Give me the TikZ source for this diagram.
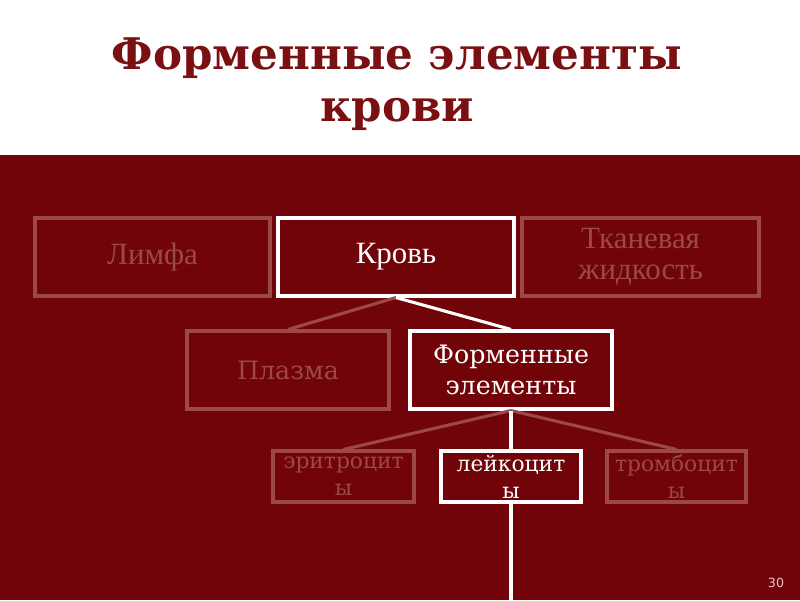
\documentclass[tikz,border=0pt]{standalone}
\usepackage{fontspec}
\setmainfont{DejaVu Serif}
\newfontfamily\timesfont{Liberation Serif}
\newfontfamily\sansfont{DejaVu Sans}
\usetikzlibrary{positioning}

\definecolor{bloodred}{RGB}{112,4,8}
\definecolor{titlered}{RGB}{122,16,18}
\definecolor{faded}{RGB}{156,72,74}
\definecolor{pagepink}{RGB}{235,195,195}

\tikzset{
  box/.style={draw, line width=2.2pt, align=center, inner sep=0pt},
  activebox/.style={box, draw=white, text=white},
  fadedbox/.style={box, draw=faded, text=faded},
  link/.style={line width=2.2pt, draw=white},
  fadedlink/.style={line width=2.2pt, draw=faded},
  bigtext/.style={font=\timesfont\fontsize{22}{22}\selectfont},
  midtext/.style={font=\fontsize{18}{21.5}\selectfont},
  smalltext/.style={font=\fontsize{15.5}{19}\selectfont}
}

\begin{document}
\begin{tikzpicture}[x=0.025cm, y=-0.025cm]
  \useasboundingbox (0,0) rectangle (800,600);
  % Background
  \fill[white] (0,0) rectangle (800,155);
  \fill[bloodred] (0,155) rectangle (800,600);

  % Title
  \node[text=titlered, align=center, font=\bfseries\fontsize{31}{37}\selectfont]
    (title) at (397,84) {Форменные элементы\\крови};

  % Top row
  \node[fadedbox, bigtext, minimum width=5.875cm, minimum height=1.95cm]
    (limfa) at (152.5,257) {Лимфа};
  \node[activebox, bigtext, minimum width=5.9cm, minimum height=1.95cm]
    (krov) at (396,257) {Кровь};
  \node[fadedbox, bigtext, minimum width=5.925cm, minimum height=1.95cm]
    (tkan) at (640.5,257) {Тканевая\\жидкость};

  % Middle row
  \node[fadedbox, midtext, minimum width=5.05cm, minimum height=1.95cm]
    (plazma) at (288,370) {Плазма};
  \node[activebox, midtext, minimum width=5.05cm, minimum height=1.95cm]
    (formen) at (511,370) {Форменные\\элементы};

  % Bottom row
  \node[fadedbox, smalltext, minimum width=3.525cm, minimum height=1.275cm]
    (eritro) at (343.5,476.5) {эритроцит\\ы};
  \node[activebox, smalltext, minimum width=3.5cm, minimum height=1.275cm]
    (leiko) at (511,476.5) {лейкоцит\\ы};
  \node[fadedbox, smalltext, minimum width=3.475cm, minimum height=1.275cm]
    (trombo) at (676.5,476.5) {тромбоцит\\ы};

  % Connectors
  \coordinate (bottom) at (511,600);
  \draw[fadedlink] (krov.south) -- (plazma.north);
  \draw[link] (krov.south) -- (formen.north);
  \draw[fadedlink] (formen.south) -- (eritro.north);
  \draw[fadedlink] (formen.south) -- (trombo.north);
  \draw[link] (formen.south) -- (leiko.north);
  \draw[link] (leiko.south) -- (bottom);

  % Page number
  \node[text=pagepink, font=\sansfont\fontsize{9}{10}\selectfont]
    (page) at (776,583) {30};
\end{tikzpicture}
\end{document}
